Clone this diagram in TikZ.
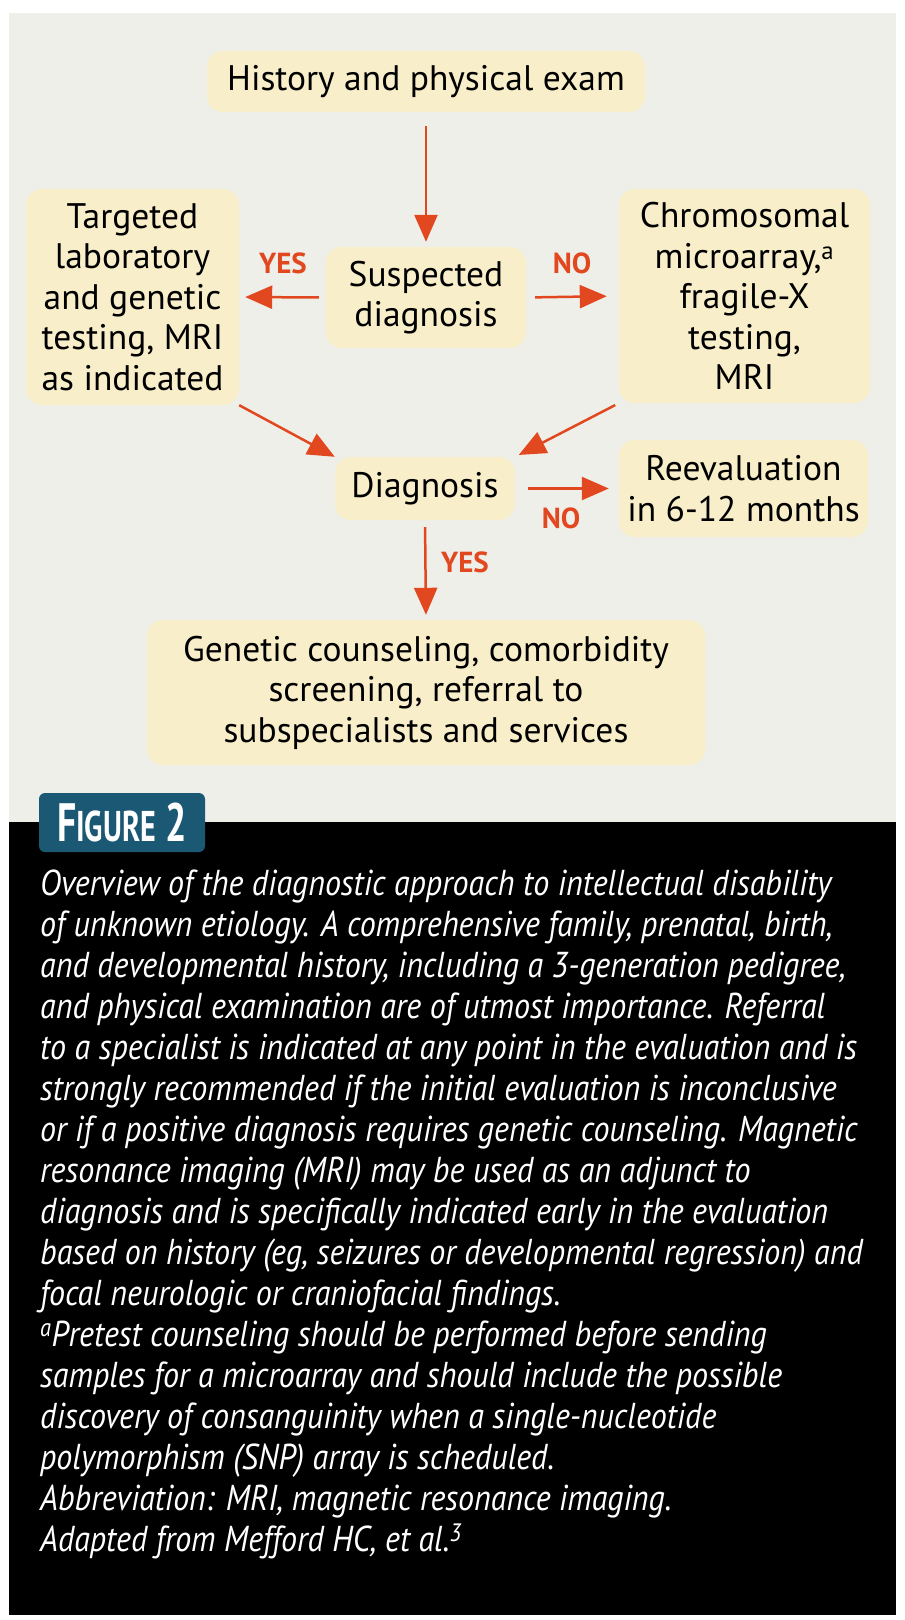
\documentclass[tikz,border=0pt]{standalone}
\usepackage{fontspec}
\setmainfont{PT Sans}
\newfontfamily\capfont{PT Sans}[FakeStretch=0.89]
\newfontfamily\figfont{PT Sans}[FakeStretch=0.70]
\usetikzlibrary{arrows.meta}
\definecolor{panel}{HTML}{EFEFE9}
\definecolor{cream}{HTML}{F8EEC9}
\definecolor{arr}{HTML}{E2481F}
\definecolor{tabc}{HTML}{1B5874}
\begin{document}
\begin{tikzpicture}[x=1pt,y=-1pt,
  box/.style={fill=cream, rounded corners=16pt, inner sep=0pt, align=center,
    font=\fontsize{35.5}{40.5}\selectfont, text=black},
  flow/.style={draw=arr, line width=2.5pt, -{Triangle[length=27pt,width=23pt]}},
  lbl/.style={text=arr, font=\bfseries\fontsize{29}{29}\selectfont, inner sep=0pt},
  capline/.style={anchor=base west, text=white, inner sep=0pt,
    font=\capfont\itshape\fontsize{36}{36}\selectfont}]
\useasboundingbox (0,0) rectangle (905,1620);
\fill[white] (0,0) rectangle (905,1620);
\fill[panel] (8.5,13) rectangle (896,822);
\fill[black] (8.5,822) rectangle (896,1615);

% boxes
\node[box, minimum width=438pt, minimum height=61pt] (hist) at (426,81.5) {History and physical exam};
\node[box, minimum width=200pt, minimum height=101pt] (susp) at (426,297.5) {Suspected\\diagnosis};
\node[box, minimum width=213pt, minimum height=216pt] (targ) at (132.5,297) {Targeted\\laboratory\\and genetic\\testing, MRI\\as indicated};
\node[box, minimum width=251pt, minimum height=214pt] (chrom) at (744.5,296) {Chromosomal\\microarray,\textsuperscript{a}\\fragile-X\\testing,\\MRI};
\node[box, minimum width=180pt, minimum height=63pt] (diag) at (425,488.5) {Diagnosis};
\node[box, minimum width=249pt, minimum height=97pt] (reev) at (743.5,488.5) {Reevaluation\\in 6-12 months};
\node[box, minimum width=558pt, minimum height=145pt] (gen) at (426,692.5) {Genetic counseling, comorbidity\\screening, referral to\\subspecialists and services};

% connectors
\draw[flow, shorten <=14pt, shorten >=5pt] (hist.south) -- (susp.north);
\draw[flow, shorten <=7pt, shorten >=6pt] (susp.west) -- (targ.east);
\draw[flow, shorten <=9pt, shorten >=12pt] (susp.east) -- (chrom.west);
\draw[flow, shorten <=0pt, shorten >=0pt] (targ.south east) -- (diag.north west);
\draw[flow, shorten <=4pt, shorten >=4pt] (chrom.south west) -- (diag.north east);
\draw[flow, shorten <=13pt, shorten >=10pt] (diag.east) -- (reev.west);
\draw[flow, shorten <=7pt, shorten >=5pt] (diag.south) -- (gen.north);

% labels
\node[lbl] (yes1) at (283,263) {YES};
\node[lbl] (no1) at (572,263) {NO};
\node[lbl] (no2) at (561,518.5) {NO};
\node[lbl] (yes2) at (465,562) {YES};

% figure tab
\node[fill=tabc, rounded corners=6pt, minimum width=166pt, minimum height=59pt, inner sep=0pt, text=white] (fig) at (122,822.5)
  {\figfont\bfseries\fontsize{54}{54}\selectfont F\fontsize{43}{43}\selectfont IGURE\fontsize{54}{54}\selectfont\ 2};

% caption
\node[capline] (c1) at (40,895) {Overview of the diagnostic approach to intellectual disability};
\node[capline] (c2) at (40,936) {of unknown etiology. A comprehensive family, prenatal, birth,};
\node[capline] (c3) at (40,977) {and developmental history, including a 3-generation pedigree,};
\node[capline] (c4) at (40,1018) {and physical examination are of utmost importance. Referral};
\node[capline] (c5) at (40,1059) {to a specialist is indicated at any point in the evaluation and is};
\node[capline] (c6) at (40,1100) {strongly recommended if the initial evaluation is inconclusive};
\node[capline] (c7) at (40,1141) {or if a positive diagnosis requires genetic counseling. Magnetic};
\node[capline] (c8) at (40,1182) {resonance imaging (MRI) may be used as an adjunct to};
\node[capline] (c9) at (40,1223) {diagnosis and is specifically indicated early in the evaluation};
\node[capline] (c10) at (40,1264) {based on history (eg, seizures or developmental regression) and};
\node[capline] (c11) at (40,1305) {focal neurologic or craniofacial findings.};
\node[capline] (c12) at (40,1346) {\textsuperscript{a}Pretest counseling should be performed before sending};
\node[capline] (c13) at (40,1387) {samples for a microarray and should include the possible};
\node[capline] (c14) at (40,1428) {discovery of consanguinity when a single-nucleotide};
\node[capline] (c15) at (40,1469) {polymorphism (SNP) array is scheduled.};
\node[capline] (c16) at (40,1510) {Abbreviation: MRI, magnetic resonance imaging.};
\node[capline] (c17) at (40,1551) {Adapted from Mefford HC, et al.\textsuperscript{3}};
\end{tikzpicture}
\end{document}
